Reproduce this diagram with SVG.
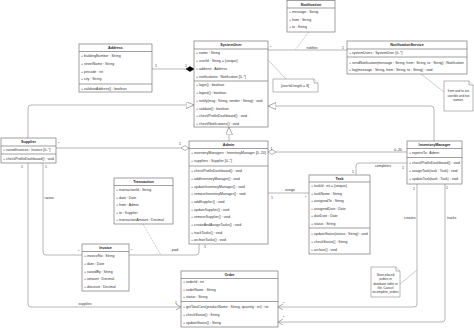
<svg xmlns="http://www.w3.org/2000/svg" width="474" height="328" viewBox="0 0 474 328">
<style>
text{font-family:"Liberation Sans",Arial,sans-serif;font-size:3.5px;fill:#333}
.h{font-weight:bold;text-anchor:middle;font-size:3.7px;fill:#222}
.box{fill:#fff;stroke:#777;stroke-width:0.7}
.sep{stroke:#777;stroke-width:0.7}
.ln{fill:none;stroke:#999;stroke-width:0.7}
.dl{fill:none;stroke:#aaa;stroke-width:0.6}
.m{text-anchor:middle}
.note{fill:#fff;stroke:#888;stroke-width:0.6}
</style>
<defs>
<marker id="gen" markerUnits="userSpaceOnUse" markerWidth="10" markerHeight="10" refX="8" refY="3.5" orient="auto"><path d="M0,0 L8,3.5 L0,7 z" fill="#fff" stroke="#888" stroke-width="0.7"/></marker>
<marker id="comp" markerUnits="userSpaceOnUse" markerWidth="10" markerHeight="8" refX="8.5" refY="3" orient="auto"><path d="M0.5,3 L4.5,0.5 L8.5,3 L4.5,5.5 z" fill="#000" stroke="#000" stroke-width="0.5"/></marker>
<marker id="agg" markerUnits="userSpaceOnUse" markerWidth="10" markerHeight="8" refX="8.5" refY="3" orient="auto"><path d="M0.5,3 L4.5,0.5 L8.5,3 L4.5,5.5 z" fill="#fff" stroke="#888" stroke-width="0.6"/></marker>
<marker id="open" markerUnits="userSpaceOnUse" markerWidth="8" markerHeight="8" refX="5" refY="3" orient="auto"><path d="M0,0 L5,3 L0,6" fill="none" stroke="#888" stroke-width="0.7"/></marker>
</defs>
<rect width="474" height="328" fill="#fff"/>

<g id="connectors">
<path class="ln" d="M152,69 H194" marker-end="url(#comp)"/>
<path class="ln" d="M28,138 V108 Q28,105 31,105 H194" marker-end="url(#gen)"/>
<path class="ln" d="M434,141 V109 Q434,106 431,106 H268" marker-end="url(#gen)"/>
<path class="ln" d="M229,141 V127" marker-end="url(#gen)"/>
<path class="ln" d="M268,50 H347"/>
<path class="dl" d="M309,32 L295,50" stroke-dasharray="2,1"/>
<path class="dl" d="M268,60 L286,79"/>
<path class="dl" d="M421,74 L444,92"/>
<path class="ln" d="M407,152 H268" marker-end="url(#agg)"/>
<path class="ln" d="M56,148 H189" marker-end="url(#agg)"/>
<path class="ln" d="M407,163 H359 Q356,163 356,166 V175"/>
<path class="ln" d="M268,193 H309"/>
<path class="ln" d="M43,163 V252 Q43,255 46,255 H82"/>
<path class="ln" d="M129,255 H196 Q199,255 199,252 V244"/>
<path class="dl" d="M143,224 L161,255" stroke-dasharray="2,1"/>
<path class="ln" d="M28,163 V304 Q28,307 31,307 H181" marker-end="url(#open)"/>
<path class="ln" d="M417,184 V304 Q417,307 414,307 H278" marker-end="url(#open)"/>
<path class="ln" d="M445,184 V319 Q445,322 442,322 H278" marker-end="url(#open)"/>
<path class="dl" d="M400,284 L417,270"/>
<text x="155" y="67">1</text>
<text x="185" y="67">1</text>
<text x="270" y="48.5">*</text>
<text class="m" x="312" y="48.5">notifies</text>
<text x="342" y="48.5">1</text>
<text x="270.5" y="150">1</text>
<text x="394" y="150.5">0..20</text>
<text x="58" y="145">*</text>
<text x="179" y="145">1</text>
<text class="m" x="383" y="167">completes</text>
<text x="402" y="168.5">1</text>
<text x="352" y="172.5">1</text>
<text class="m" x="290" y="190.5">assign</text>
<text x="271" y="198.5">1</text>
<text x="305" y="198.5">*</text>
<text x="44.5" y="199">raises</text>
<text x="21" y="168">1</text>
<text x="45" y="168">1</text>
<text x="78" y="253">*</text>
<text class="m" x="175" y="251">paid</text>
<text x="131" y="252">*</text>
<text x="204" y="248">1</text>
<text class="m" x="85" y="305">supplies</text>
<text x="175" y="304">1</text>
<text x="413" y="190">1</text>
<text x="404" y="219">creates</text>
<text x="446" y="189">1</text>
<text x="447" y="219">tracks</text>
<text x="283" y="304.5">*</text>
<text x="283" y="319">*</text>
</g>

<g id="address">
<rect class="box" x="79" y="44" width="73" height="48"/>
<line class="sep" x1="79" y1="51.5" x2="152" y2="51.5"/>
<line class="sep" x1="79" y1="84" x2="152" y2="84"/>
<text class="h" x="115.5" y="49.2">Address</text>
<text x="81" y="57.3">+ buildingNumber : String</text>
<text x="81" y="65">+ streetName : String</text>
<text x="81" y="72.6">+ pincode : int</text>
<text x="81" y="80.3">+ city : String</text>
<text x="81" y="90.3">+ validateAddress() : boolean</text>
</g>

<g id="systemuser">
<rect class="box" x="194" y="41" width="74" height="86"/>
<line class="sep" x1="194" y1="49" x2="268" y2="49"/>
<line class="sep" x1="194" y1="81" x2="268" y2="81"/>
<text class="h" x="231" y="46.3">SystemUser</text>
<text x="196" y="54.3">+ name : String</text>
<text x="196" y="62.3">+ userId : String = {unique}</text>
<text x="196" y="70.3">+ address : Address</text>
<text x="196" y="77.6">+ notifications : Notification [0..*]</text>
<text x="196" y="86.3">+ login() : boolean</text>
<text x="196" y="94.2">+ logout() : boolean</text>
<text x="196" y="102.2">+ notify(msg : String, sender : String) : void</text>
<text x="196" y="109.5">+ validate() : boolean</text>
<text x="196" y="117.3">+ checkProfileDashboard() : void</text>
<text x="196" y="125.3">+ checkNotifications() : void</text>
</g>

<g id="notification">
<rect class="box" x="287" y="0.5" width="48" height="31.5"/>
<line class="sep" x1="287" y1="8" x2="335" y2="8"/>
<text class="h" x="311" y="5.6">Notification</text>
<text x="289" y="13.3">+ message : String</text>
<text x="289" y="20.8">+ from : String</text>
<text x="289" y="28.3">+ to : String</text>
</g>

<g id="notificationservice">
<rect class="box" x="347" y="41" width="120" height="33"/>
<line class="sep" x1="347" y1="49" x2="467" y2="49"/>
<line class="sep" x1="347" y1="57" x2="467" y2="57"/>
<text class="h" x="407" y="46.3">NotificationService</text>
<text x="349" y="54.3">+ systemUsers : SystemUser [0..*]</text>
<text x="349" y="64.3">+ sendNotification(message : String, from : String, to : String) : Notification</text>
<text x="349" y="71.3">+ log(message : String, from : String, to : String) : void</text>
</g>

<g id="note-userid">
<path class="note" d="M273,79 H314 L318,83 V92 H273 z"/>
<path class="note" d="M314,79 V83 H318" fill="none"/>
<text class="m" x="295" y="87.2">[userId length = 8]</text>
</g>

<g id="note-from">
<path class="note" d="M444,81 H469 L473,85 V111 H444 z"/>
<path class="note" d="M469,81 V85 H473" fill="none"/>
<text class="m" x="458.5" y="92" style="font-size:3.2px">from and to are</text>
<text class="m" x="458.5" y="96.5" style="font-size:3.2px">userIds and not</text>
<text class="m" x="458.5" y="101" style="font-size:3.2px">names.</text>
</g>

<g id="supplier">
<rect class="box" x="1" y="138" width="55" height="25"/>
<line class="sep" x1="1" y1="146" x2="56" y2="146"/>
<line class="sep" x1="1" y1="154" x2="56" y2="154"/>
<text class="h" x="28.5" y="143.3">Supplier</text>
<text x="3" y="150.8">+ raisedInvoices : Invoice [0..*]</text>
<text x="3" y="160.3">+ checkProfileDashboard() : void</text>
</g>

<g id="admin">
<rect class="box" x="189" y="141" width="79" height="103"/>
<line class="sep" x1="189" y1="148.5" x2="268" y2="148.5"/>
<line class="sep" x1="189" y1="166" x2="268" y2="166"/>
<text class="h" x="228.5" y="146.3">Admin</text>
<text x="191" y="154.3">+ inventoryManagers : InventoryManager [0..20]</text>
<text x="191" y="162.3">+ suppliers : Supplier [0..*]</text>
<text x="191" y="172.3">+ checkProfileDashboard() : void</text>
<text x="191" y="180">+ addInventoryManager() : void</text>
<text x="191" y="187.7">+ updateInventoryManager() : void</text>
<text x="191" y="195.3">+ removeInventoryManager() : void</text>
<text x="191" y="203">+ addSupplier() : void</text>
<text x="191" y="210.7">+ updateSupplier() : void</text>
<text x="191" y="218.3">+ removeSupplier() : void</text>
<text x="191" y="226">+ createAndAssignTasks() : void</text>
<text x="191" y="233.7">+ trackTasks() : void</text>
<text x="191" y="241.3">+ archiveTasks() : void</text>
</g>

<g id="inventorymanager">
<rect class="box" x="407" y="141" width="55" height="43"/>
<line class="sep" x1="407" y1="148.5" x2="462" y2="148.5"/>
<line class="sep" x1="407" y1="157.5" x2="462" y2="157.5"/>
<text class="h" x="434.5" y="146.3">InventoryManager</text>
<text x="409" y="154.3">+ reportsTo : Admin</text>
<text x="409" y="164.3">+ checkProfileDashboard() : void</text>
<text x="409" y="172.3">+ assignTask(task : Task) : void</text>
<text x="409" y="180.3">+ updateTask(task : Task) : void</text>
</g>

<g id="task">
<rect class="box" x="309" y="175" width="61" height="79"/>
<line class="sep" x1="309" y1="182" x2="370" y2="182"/>
<line class="sep" x1="309" y1="228" x2="370" y2="228"/>
<text class="h" x="339.5" y="179.8">Task</text>
<text x="311" y="187.3">+ taskId : int = {unique}</text>
<text x="311" y="194.8">+ taskName : String</text>
<text x="311" y="202.3">+ assignedTo : String</text>
<text x="311" y="209.8">+ assignedDate : Date</text>
<text x="311" y="217.3">+ dueDate : Date</text>
<text x="311" y="224.8">+ status : String</text>
<text x="311" y="235.3">+ updateStatus(status : String) : void</text>
<text x="311" y="243.3">+ checkStatus() : String</text>
<text x="311" y="251.3">+ archive() : void</text>
</g>

<g id="transaction">
<rect class="box" x="114" y="178" width="59" height="46"/>
<line class="sep" x1="114" y1="185.5" x2="173" y2="185.5"/>
<text class="h" x="143.5" y="183">Transaction</text>
<text x="116" y="191.3">+ transactionId : String</text>
<text x="116" y="198.8">+ date : Date</text>
<text x="116" y="206.3">+ from : Admin</text>
<text x="116" y="213.5">+ to : Supplier</text>
<text x="116" y="220.8">+ transactionAmount : Decimal</text>
</g>

<g id="invoice">
<rect class="box" x="82" y="244" width="47" height="47"/>
<line class="sep" x1="82" y1="251.5" x2="129" y2="251.5"/>
<text class="h" x="105.5" y="249.3">Invoice</text>
<text x="84" y="257.3">+ invoiceNo : String</text>
<text x="84" y="265.3">+ date : Date</text>
<text x="84" y="272.8">+ raisedBy : String</text>
<text x="84" y="280.3">+ amount : Decimal</text>
<text x="84" y="288.3">+ discount : Decimal</text>
</g>

<g id="order">
<rect class="box" x="181" y="271" width="97" height="56"/>
<line class="sep" x1="181" y1="278.5" x2="278" y2="278.5"/>
<line class="sep" x1="181" y1="301.5" x2="278" y2="301.5"/>
<text class="h" x="229.5" y="276.3">Order</text>
<text x="183" y="283.3">+ orderId : int</text>
<text x="183" y="291.3">+ orderName : String</text>
<text x="183" y="298.3">+ status : String</text>
<text x="183" y="308.3">+ getTotalCost(productName : String, quantity : int) : int</text>
<text x="183" y="316.3">+ checkStatus() : String</text>
<text x="183" y="324.3">+ updateStatus() : String</text>
</g>

<g id="note-save">
<path class="note" d="M371,267 H396 L400,271 V297 H371 z"/>
<path class="note" d="M396,267 V271 H400" fill="none"/>
<text class="m" x="385.5" y="276" style="font-size:3.2px">Save placed</text>
<text class="m" x="385.5" y="280.3" style="font-size:3.2px">orders in</text>
<text class="m" x="385.5" y="284.6" style="font-size:3.2px">database table or</text>
<text class="m" x="385.5" y="288.9" style="font-size:3.2px">file. Cancel</text>
<text class="m" x="385.5" y="293.2" style="font-size:3.2px">incomplete_orders</text>
</g>
</svg>
